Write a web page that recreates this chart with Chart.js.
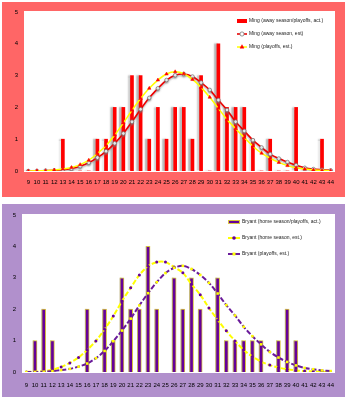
<!DOCTYPE html>
<html>
<head>
<meta charset="utf-8">
<script src="https://cdn.jsdelivr.net/npm/chart.js@4/dist/chart.umd.min.js"></script>
<style>
  html, body { margin: 0; padding: 0; background: #fff; width: 347px; height: 400px; overflow: hidden; }
  .box { position: absolute; left: 2px; width: 343px; }
  #top { top: 2px; height: 195px; background: #FF6666; }
  #bot { top: 204px; height: 193px; background: #B190CC; }
  canvas { display: block; }
</style>
</head>
<body>
<div class="box" id="top"><canvas id="ming" width="343" height="195"></canvas></div>
<div class="box" id="bot"><canvas id="bryant" width="343" height="193"></canvas></div>
<script>
  const points = ['9', '10', '11', '12', '13', '14', '15', '16', '17', '18', '19', '20',
    '21', '22', '23', '24', '25', '26', '27', '28', '29', '30', '31', '32',
    '33', '34', '35', '36', '37', '38', '39', '40', '41', '42', '43', '44'];
  const yTicks = [0, 1, 2, 3, 4, 5];

  // Ming: games per point total
  const mingAct = [0, 0, 0, 0, 1, 0, 0, 0, 1, 1, 2, 2,
    3, 3, 1, 2, 1, 2, 2, 1, 3, 0, 4, 2,
    2, 2, 1, 0, 1, 0, 0, 2, 0, 0, 1, 0];
  const mingAwayEst = [0.00, 0.00, 0.01, 0.02, 0.04, 0.08, 0.15, 0.26, 0.42, 0.62, 0.87, 1.18,
    1.55, 1.94, 2.30, 2.60, 2.86, 3.01, 3.05, 2.97, 2.78, 2.55, 2.23, 1.92,
    1.55, 1.26, 0.97, 0.74, 0.53, 0.39, 0.28, 0.18, 0.10, 0.06, 0.04, 0.02];
  const mingPlayoffEst = [0.00, 0.01, 0.01, 0.03, 0.06, 0.11, 0.20, 0.34, 0.55, 0.80, 1.13, 1.51,
    1.91, 2.28, 2.60, 2.86, 3.05, 3.12, 3.06, 2.88, 2.63, 2.32, 1.97, 1.62,
    1.33, 1.05, 0.78, 0.56, 0.40, 0.27, 0.17, 0.10, 0.06, 0.03, 0.02, 0.01];

  // Bryant
  const bryantAct = [0, 1, 2, 1, 0, 0, 0, 2, 0, 2, 1, 3,
    2, 2, 4, 2, 0, 3, 2, 3, 2, 0, 3, 1,
    1, 1, 1, 1, 0, 1, 2, 1, 0, 0, 0, 0];
  const bryantHomeEst = [0.00, 0.01, 0.03, 0.07, 0.16, 0.29, 0.46, 0.70, 0.99, 1.36, 1.78, 2.26,
    2.68, 3.09, 3.37, 3.50, 3.50, 3.34, 3.16, 2.79, 2.46, 2.04, 1.66, 1.31,
    0.99, 0.70, 0.49, 0.33, 0.22, 0.14, 0.09, 0.05, 0.03, 0.02, 0.01, 0.00];
  const bryantPlayoffEst = [0.00, 0.00, 0.01, 0.03, 0.06, 0.10, 0.17, 0.27, 0.44, 0.67, 0.98, 1.32,
    1.70, 2.12, 2.51, 2.86, 3.15, 3.32, 3.38, 3.28, 3.09, 2.84, 2.50, 2.13,
    1.80, 1.44, 1.14, 0.88, 0.64, 0.46, 0.32, 0.21, 0.13, 0.09, 0.05, 0.03];

  const tickFont = { family: 'Liberation Sans', size: 6 };

  // white plot area on the coloured frame
  const plotBg = {
    id: 'plotBg',
    beforeDraw(chart) {
      const a = chart.chartArea, ctx = chart.ctx;
      ctx.save();
      ctx.fillStyle = '#fff';
      ctx.fillRect(a.left, a.top - 1, a.right - a.left, a.bottom - a.top + 2);
      ctx.restore();
    }
  };

  // excel-ish grey drop shadow on the bars and lines
  const barShadow = {
    id: 'barShadow',
    beforeDatasetDraw(chart, args) {
      const ds = chart.data.datasets[args.index];
      if (!ds.shadow) return;
      const ctx = chart.ctx;
      ctx.save();
      ctx.shadowColor = ds.shadow;
      ctx.shadowOffsetX = ds.type === 'bar' ? -2.5 : 0;
      ctx.shadowOffsetY = ds.type === 'bar' ? 0 : 1.5;
      ctx.shadowBlur = 1.5;
    },
    afterDatasetDraw(chart, args) {
      const ds = chart.data.datasets[args.index];
      if (ds.shadow) chart.ctx.restore();
    }
  };

  // legend drawn inside the plot, top right
  const boxLegend = {
    id: 'boxLegend',
    afterDraw(chart, args, opts) {
      const ctx = chart.ctx, a = chart.chartArea;
      ctx.save();
      ctx.font = opts.font;
      ctx.textBaseline = 'middle';
      chart.data.datasets.forEach((ds, i) => {
        const y = a.top + opts.rows[i];
        const x0 = a.right - opts.sampleX, x1 = x0 + opts.sampleW;
        if (ds.type === 'bar') {
          ctx.fillStyle = ds.backgroundColor;
          ctx.fillRect(x0, y - 2, opts.sampleW, 4);
          if (ds.borderWidth) {
            ctx.strokeStyle = ds.borderColor;
            ctx.lineWidth = 1;
            ctx.strokeRect(x0 + 0.5, y - 1.5, opts.sampleW - 1, 3);
          }
        } else {
          ctx.strokeStyle = ds.borderColor;
          ctx.lineWidth = ds.borderWidth;
          ctx.setLineDash(ds.borderDash || []);
          ctx.beginPath();
          ctx.moveTo(x0, y);
          ctx.lineTo(x1, y);
          ctx.stroke();
          ctx.setLineDash([]);
          ctx.fillStyle = ds.pointBackgroundColor;
          ctx.strokeStyle = ds.pointBorderColor;
          ctx.lineWidth = ds.pointBorderWidth;
          Chart.helpers.drawPoint(ctx, {
            pointStyle: ds.pointStyle, radius: ds.pointRadius + 0.3,
            rotation: 0, borderWidth: ds.pointBorderWidth
          }, (x0 + x1) / 2, y);
        }
        ctx.fillStyle = '#222';
        ctx.fillText(ds.label, x1 + 2, y);
      });
      ctx.restore();
    }
  };

  function makeChart(id, datasets, pad, yWidth, xHeight, xPad, legendOpts) {
    return new Chart(document.getElementById(id), {
      data: { labels: points, datasets: datasets },
      plugins: [plotBg, barShadow, boxLegend],
      options: {
        responsive: false,
        animation: false,
        layout: { padding: pad },
        plugins: {
          legend: { display: false },
          tooltip: { enabled: false },
          boxLegend: legendOpts
        },
        scales: {
          x: {
            grid: { display: false, drawTicks: false },
            border: { display: false },
            ticks: { color: '#000', font: tickFont, padding: xPad, maxRotation: 0, autoSkip: false },
            afterFit: s => { s.height = xHeight; }
          },
          y: {
            min: 0, max: 5,
            afterBuildTicks: s => { s.ticks = yTicks.map(v => ({ value: v })); },
            grid: { display: false, drawTicks: false },
            border: { display: false },
            ticks: { color: '#000', font: tickFont, padding: 6 },
            afterFit: s => { s.width = yWidth; }
          }
        }
      }
    });
  }

  makeChart('ming', [
    {
      type: 'bar', label: 'Ming (away season/playoffs, act.)', data: mingAct,
      backgroundColor: '#FF0000', barThickness: 3, shadow: 'rgba(150,150,150,0.7)', order: 3
    },
    {
      type: 'line', label: 'Ming (away season, est)', data: mingAwayEst,
      borderColor: '#EE0000', borderWidth: 1.6, tension: 0.3, shadow: 'rgba(120,120,120,0.5)',
      pointStyle: 'circle', pointRadius: 1.8, pointBorderWidth: 0.8,
      pointBackgroundColor: '#fff', pointBorderColor: '#777', order: 2
    },
    {
      type: 'line', label: 'Ming (playoffs, est.)', data: mingPlayoffEst,
      borderColor: '#FFFF00', borderWidth: 1.5, tension: 0.3,
      pointStyle: 'triangle', pointRadius: 2, pointBorderWidth: 0.5,
      pointBackgroundColor: '#FF0000', pointBorderColor: '#FF0000', order: 1
    }
  ], { top: 10, right: 10, left: 0, bottom: 0 }, 22, 26, 8,
  { font: '5px "Liberation Sans"', rows: [9, 22, 35], sampleX: 98, sampleW: 10 });

  makeChart('bryant', [
    {
      type: 'bar', label: 'Bryant (home season/playoffs, act.)', data: bryantAct,
      backgroundColor: '#660099', borderColor: '#D8C640', borderWidth: 1,
      barThickness: 4, shadow: 'rgba(170,160,130,0.7)', order: 3
    },
    {
      type: 'line', label: 'Bryant (home season, est.)', data: bryantHomeEst,
      borderColor: '#FFFF00', borderWidth: 2, borderDash: [5, 2], tension: 0.3,
      pointStyle: 'circle', pointRadius: 1.5, pointBorderWidth: 0,
      pointBackgroundColor: '#660099', pointBorderColor: '#660099', order: 2
    },
    {
      type: 'line', label: 'Bryant (playoffs, est.)', data: bryantPlayoffEst,
      borderColor: '#6A1B9A', borderWidth: 2, borderDash: [5, 2], tension: 0.3,
      pointStyle: 'rect', pointRadius: 1.8, pointBorderWidth: 0,
      pointBackgroundColor: '#FFFF00', pointBorderColor: '#FFFF00', order: 1
    }
  ], { top: 11, right: 10, left: 0, bottom: 0 }, 20, 25, 10,
  { font: '5px "Liberation Sans"', rows: [7, 23, 39], sampleX: 107, sampleW: 12 });
</script>
</body>
</html>
